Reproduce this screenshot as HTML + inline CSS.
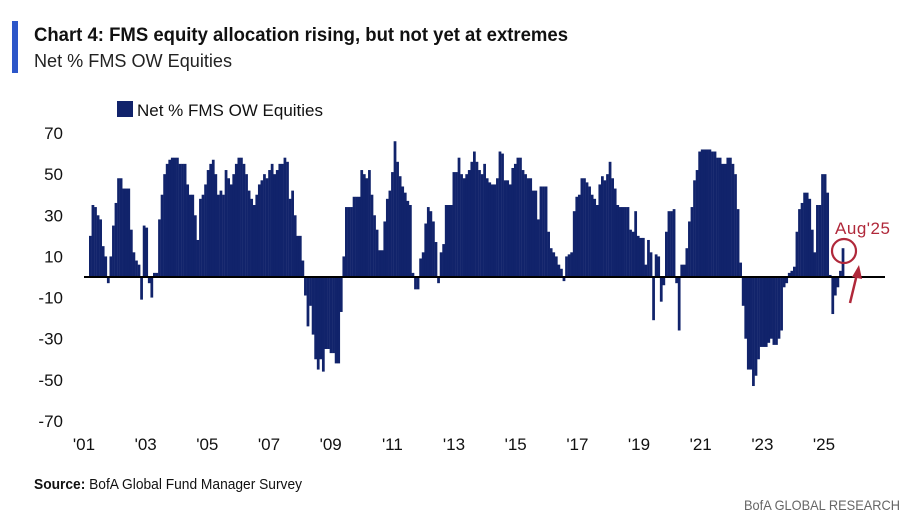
<!DOCTYPE html>
<html><head><meta charset="utf-8"><style>
html,body{margin:0;padding:0;background:#fff;}
svg{display:block;font-family:"Liberation Sans",sans-serif;}
</style></head><body>
<svg id="chart" width="914" height="532" viewBox="0 0 914 532" xmlns="http://www.w3.org/2000/svg">
<rect x="12" y="21" width="6" height="52" fill="#2c56c9"/>
<text x="34" y="41" font-size="19" font-weight="bold" fill="#111" textLength="534" lengthAdjust="spacingAndGlyphs">Chart 4: FMS equity allocation rising, but not yet at extremes</text>
<text x="34" y="67" font-size="18" fill="#222" textLength="198" lengthAdjust="spacingAndGlyphs">Net % FMS OW Equities</text>
<rect x="117" y="101" width="16" height="16" fill="#11236b"/>
<text x="137" y="116" font-size="17" fill="#111" textLength="186" lengthAdjust="spacingAndGlyphs">Net % FMS OW Equities</text>
<g id="bars"></g>
<g id="yticks"></g>
<g id="xticks"></g>
<line x1="84" y1="277" x2="885" y2="277" stroke="#000" stroke-width="2"/>
<text x="835" y="234" font-size="17" fill="#b0283a" textLength="55" lengthAdjust="spacing">Aug'25</text>
<circle cx="844" cy="251" r="12" fill="none" stroke="#b0283a" stroke-width="2.2"/>
<line x1="850" y1="303" x2="857" y2="274" stroke="#b0283a" stroke-width="2.5"/>
<polygon points="859,265 852,277 862,279" fill="#b0283a"/>
<text x="34" y="489" font-size="15" fill="#111" textLength="268" lengthAdjust="spacingAndGlyphs"><tspan font-weight="bold">Source:</tspan> BofA Global Fund Manager Survey</text>
<text x="744" y="510" font-size="14" fill="#666" textLength="156" lengthAdjust="spacingAndGlyphs">BofA GLOBAL RESEARCH</text>
</svg>
<script>
const values = [
20,35,34,30,28,15,10,-3,10,25,36,48,
48,43,43,43,23,12,8,6,-11,25,24,-3,
-10,2,2,28,40,50,55,57,58,58,58,55,
55,55,45,40,40,30,18,38,40,45,52,55,
57,50,40,42,40,52,48,45,50,55,58,58,
55,50,42,38,35,40,45,47,50,48,52,55,
50,52,55,55,58,56,38,42,30,20,20,8,
-9,-24,-14,-28,-40,-45,-40,-46,-35,-35,-37,-37,
-42,-42,-17,10,34,34,34,39,39,39,52,50,
48,52,40,30,23,13,13,27,38,42,51,66,
56,49,44,41,37,35,2,-6,-6,9,12,26,
34,32,27,17,-3,12,16,35,35,35,51,51,
58,50,48,50,52,56,61,56,52,50,55,48,
46,45,45,48,61,60,47,47,45,53,55,58,
58,52,50,48,48,42,42,28,44,44,44,22,
14,12,10,6,4,-2,10,11,12,32,39,40,
48,48,46,44,40,38,35,45,49,47,50,56,
48,43,35,34,34,34,34,23,22,32,20,19,
19,6,18,12,-21,11,10,-12,-4,22,32,32,
33,-3,-26,6,6,14,27,34,47,52,61,62,
62,62,62,61,61,58,58,55,55,58,58,55,
50,33,7,-14,-30,-45,-45,-53,-48,-40,-34,-34,
-34,-32,-30,-33,-33,-30,-26,-5,-3,2,3,5,
22,33,36,41,41,38,23,12,35,35,50,50,
41,1,-18,-9,-5,3,14
];
const yTicks = [70,50,30,10,-10,-30,-50,-70];
const xLabels = ["'01","'03","'05","'07","'09","'11","'13","'15","'17","'19","'21","'23","'25"];

const NS = "http://www.w3.org/2000/svg";
const y = v => 277 - v * 2.057;
const xBar = i => 89 + i * 2.56;
const xYear = k => 84 + k * 61.67;

const barsG = document.getElementById('bars');
values.forEach((v, i) => {
  const r = document.createElementNS(NS, 'rect');
  
  
  const top = Math.min(y(v), y(0)), h = Math.abs(y(v) - y(0));
  r.setAttribute('x', xBar(i).toFixed(2));
  r.setAttribute('y', top.toFixed(2));
  r.setAttribute('width', '2.75');
  r.setAttribute('height', Math.max(h, 0.5).toFixed(2));
  r.setAttribute('fill', '#11236b');
  barsG.appendChild(r);
});

const yG = document.getElementById('yticks');
yTicks.forEach(t => {
  const tx = document.createElementNS(NS, 'text');
  
  
  tx.setAttribute('x', '63');
  tx.setAttribute('y', (y(t) + 6).toFixed(1));
  tx.setAttribute('text-anchor', 'end');
  tx.setAttribute('font-size', '17');
  tx.setAttribute('fill', '#111');
  tx.textContent = t;
  yG.appendChild(tx);
});

const xG = document.getElementById('xticks');
xLabels.forEach((l, k) => {
  const tx = document.createElementNS(NS, 'text');
  
  
  tx.setAttribute('x', xYear(k).toFixed(1));
  tx.setAttribute('y', '450');
  tx.setAttribute('text-anchor', 'middle');
  tx.setAttribute('font-size', '17');
  tx.setAttribute('fill', '#111');
  tx.textContent = l;
  xG.appendChild(tx);
});
</script>
</body></html>
